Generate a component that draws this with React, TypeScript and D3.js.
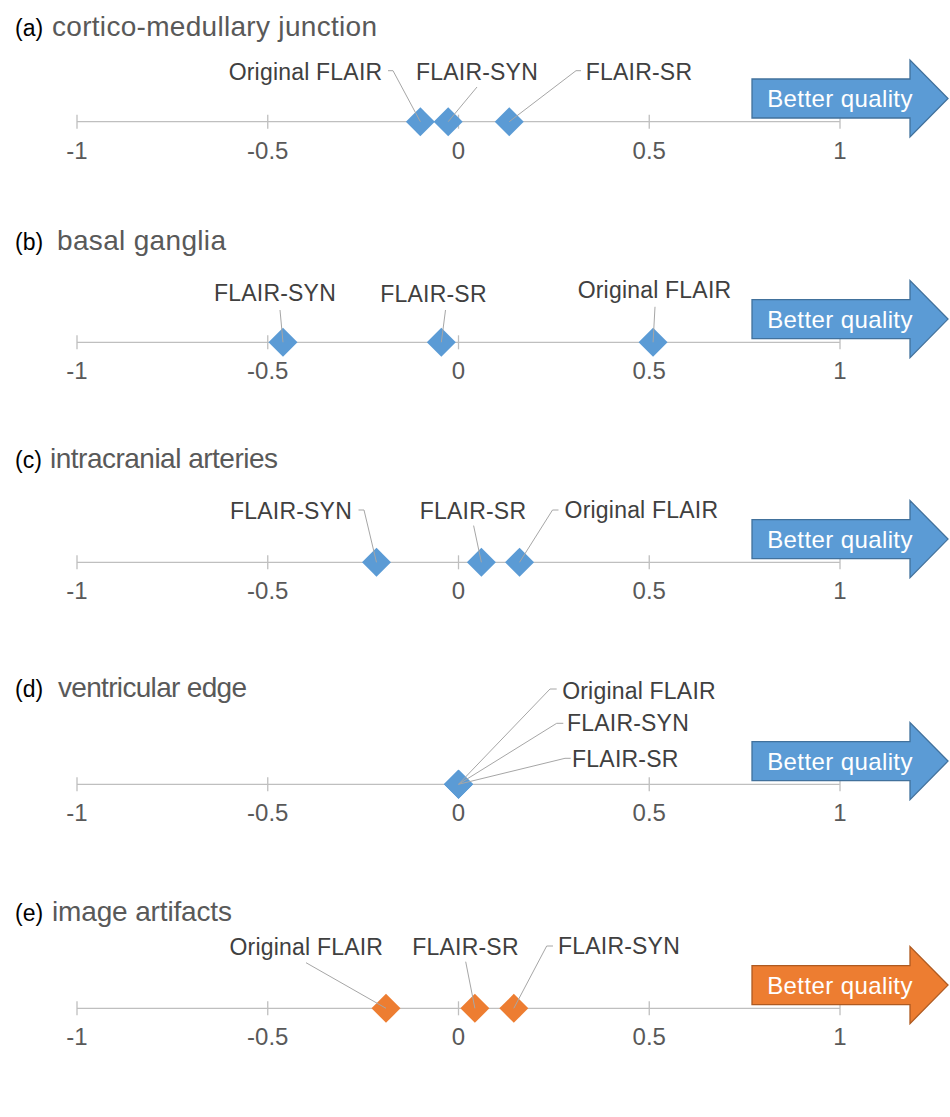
import React from "react";
import * as d3 from "d3";

// ---- Data ----
const panelLetters = ["(a)", "(b)", "(c)", "(d)", "(e)"];
const panelTitles = [
  "cortico-medullary junction",
  "basal ganglia",
  "intracranial arteries",
  "ventricular edge",
  "image artifacts",
];
const seriesNames = ["Original FLAIR", "FLAIR-SYN", "FLAIR-SR"];
const originalScores = [-0.1, 0.51, 0.16, 0.0, -0.19];
const synScores = [-0.027, -0.46, -0.215, 0.0, 0.145];
const srScores = [0.133, -0.045, 0.06, 0.0, 0.043];
const tickValues = [-1, -0.5, 0, 0.5, 1];
const tickLabels = ["-1", "-0.5", "0", "0.5", "1"];
const arrowText = "Better quality";

// ---- Layout (positions / styles only) ----
const W = 950;
const H = 1117;
const axisYs = [121.7, 342.3, 562.3, 784.3, 1008.3];
const titleBaselines = [36, 250, 468, 697, 921];
const titleXs = [52, 57, 50, 58, 52];
const titleWidths = [325, 169, 228, 189, 180];
const panelColors = ["#5B9BD5", "#5B9BD5", "#5B9BD5", "#5B9BD5", "#ED7D31"];
const panelStroke = ["#41719C", "#41719C", "#41719C", "#41719C", "#AE5A21"];

// label layout per panel, per series (order: Original, SYN, SR)
type LabelLayout = { cx: number; cy: number; pts: [number, number][] };
const labelLayouts: LabelLayout[][] = [
  [
    { cx: 305.5, cy: 72, pts: [[388, 70.7], [393, 70.7]] },
    { cx: 477, cy: 72, pts: [[477, 87]] },
    { cx: 639, cy: 72, pts: [[581, 70.7], [576, 70.7]] },
  ],
  [
    { cx: 654.5, cy: 290, pts: [[655, 306.8]] },
    { cx: 275, cy: 293, pts: [[280, 310]] },
    { cx: 433.5, cy: 294, pts: [[445.5, 310]] },
  ],
  [
    { cx: 641.4, cy: 510, pts: [[558.5, 510], [552.5, 510]] },
    { cx: 291, cy: 511, pts: [[358.5, 510], [364, 510]] },
    { cx: 473, cy: 511, pts: [[473.6, 525.6]] },
  ],
  [
    { cx: 639, cy: 690.7, pts: [[556.7, 689], [550, 689]] },
    { cx: 628, cy: 723.3, pts: [[563.3, 723.3], [556.7, 723.3]] },
    { cx: 625.3, cy: 759, pts: [[570.7, 758.3], [565, 758.3]] },
  ],
  [
    { cx: 306.3, cy: 947, pts: [[306, 962.7]] },
    { cx: 619, cy: 946, pts: [[553, 946], [546.7, 946]] },
    { cx: 465.5, cy: 947, pts: [[465.7, 961.7]] },
  ],
];

const x = d3.scaleLinear().domain([-1, 1]).range([77, 840]);
const diamond = d3.symbol().type(d3.symbolSquare).size(420);
const line = d3.line<[number, number]>();

const FONT = "'Liberation Sans', Arial, sans-serif";

function Panel({ i }: { i: number }) {
  const ay = axisYs[i];
  const values = [originalScores[i], synScores[i], srScores[i]];
  const color = panelColors[i];
  const bodyL = 752, headX = 910, tipX = 948;
  const cy = ay - 23.2;
  const bh = 19.5, hh = 38.5;
  const arrowPts: [number, number][] = [
    [bodyL, cy - bh],
    [headX, cy - bh],
    [headX, cy - hh],
    [tipX, cy],
    [headX, cy + hh],
    [headX, cy + bh],
    [bodyL, cy + bh],
  ];
  return (
    <g>
      <text x={15} y={titleBaselines[i]} fontFamily={FONT} fontSize={23} fill="#000">
        {panelLetters[i]}
      </text>
      <text
        x={titleXs[i]}
        y={titleBaselines[i]}
        fontFamily={FONT}
        fontSize={28}
        textLength={titleWidths[i]}
        lengthAdjust="spacing"
        fill="#595959"
      >
        {panelTitles[i]}
      </text>
      <line x1={x(-1)} x2={x(1)} y1={ay} y2={ay} stroke="#BFBFBF" strokeWidth={1.3} />
      {tickValues.map((t, k) => (
        <g key={k}>
          <line x1={x(t)} x2={x(t)} y1={ay - 7} y2={ay + 7} stroke="#BFBFBF" strokeWidth={1.3} />
          <text
            x={x(t)}
            y={ay + 37}
            textAnchor="middle"
            fontFamily={FONT}
            fontSize={24}
            fill="#595959"
          >
            {tickLabels[k]}
          </text>
        </g>
      ))}
      <path d={line(arrowPts) + "Z"} fill={color} stroke={panelStroke[i]} strokeWidth={1.3} />
      <text
        x={840}
        y={cy + 8.5}
        textAnchor="middle"
        fontFamily={FONT}
        fontSize={24}
        letterSpacing={0.4}
        fill="#fff"
      >
        {arrowText}
      </text>
      {values.map((v, k) => (
        <path
          key={k}
          d={diamond() as string}
          transform={`translate(${x(v)},${ay}) rotate(45)`}
          fill={color}
        />
      ))}
      {values.map((v, k) => {
        const L = labelLayouts[i][k];
        const pts: [number, number][] = [...L.pts, [x(v), ay]];
        return (
          <g key={k}>
            <path d={line(pts) as string} fill="none" stroke="#A6A6A6" strokeWidth={1} />
            <text
              x={L.cx}
              y={L.cy + 8}
              textAnchor="middle"
              fontFamily={FONT}
              fontSize={23}
              letterSpacing={0.2}
              fill="#404040"
            >
              {seriesNames[k]}
            </text>
          </g>
        );
      })}
    </g>
  );
}

export default function App() {
  return (
    <svg
      width={W}
      height={H}
      viewBox={`0 0 ${W} ${H}`}
      style={{ position: "absolute", left: 0, top: 0, background: "#fff" }}
    >
      <rect x={0} y={0} width={W} height={H} fill="#fff" />
      {panelTitles.map((_, i) => (
        <Panel key={i} i={i} />
      ))}
    </svg>
  );
}
